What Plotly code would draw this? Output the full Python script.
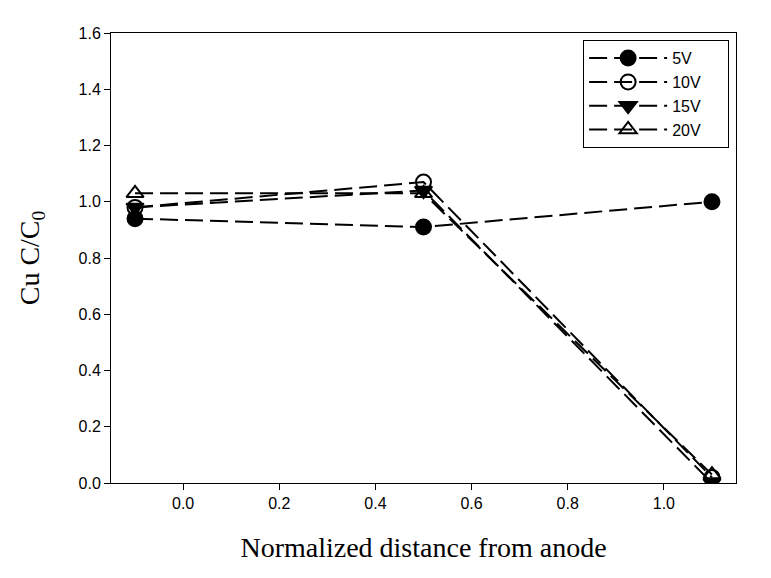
import plotly.graph_objects as go

x_pos = [-0.1, 0.5, 1.1]
v5 = [0.94, 0.91, 1.00]
v10 = [0.98, 1.07, 0.02]
v15 = [0.98, 1.04, 0.00]
v20 = [1.03, 1.03, 0.03]
names = ["5V", "10V", "15V", "20V"]
symbols = ["circle", "circle-open", "triangle-down", "triangle-up-open"]
series = [v5, v10, v15, v20]
x_ticks = [0, 0.2, 0.4, 0.6, 0.8, 1.0]
x_tick_text = ["0.0", "0.2", "0.4", "0.6", "0.8", "1.0"]
y_ticks = [0, 0.2, 0.4, 0.6, 0.8, 1.0, 1.2, 1.4, 1.6]
y_tick_text = ["0.0", "0.2", "0.4", "0.6", "0.8", "1.0", "1.2", "1.4", "1.6"]

pad = "&nbsp;" * 5
fig = go.Figure()
for nm, sym, ys in zip(names, symbols, series):
    fig.add_trace(go.Scatter(
        x=x_pos, y=ys, name=nm + pad, mode="lines+markers",
        line=dict(color="black", width=2, dash="18px,7px"),
        marker=dict(symbol=sym, size=15, color="black",
                    line=dict(color="black", width=2)),
    ))

fig.update_layout(
    width=763, height=570,
    paper_bgcolor="white", plot_bgcolor="white",
    margin=dict(l=103, r=35, t=25, b=95, autoexpand=False),
    font=dict(family="Liberation Sans, Arial", size=16, color="black"),
    showlegend=True,
    legend=dict(x=0.989, y=0.984, xanchor="right", yanchor="top",
                bordercolor="black", borderwidth=1, bgcolor="white",
                font=dict(size=16, family="Liberation Sans, Arial"),
                itemwidth=78, tracegroupgap=0),
)
fig.update_xaxes(
    range=[-0.15, 1.15], tickvals=x_ticks, ticktext=x_tick_text,
    tickfont=dict(size=16),
    showline=True, linecolor="black", linewidth=1, mirror=True,
    ticks="outside", ticklen=6, tickcolor="black", showgrid=False, zeroline=False,
    title=dict(text="Normalized distance from anode",
               font=dict(family="Liberation Serif, Times New Roman", size=28), standoff=26),
)
fig.update_yaxes(
    range=[0, 1.6], tickvals=y_ticks, ticktext=y_tick_text,
    tickfont=dict(size=16),
    showline=True, linecolor="black", linewidth=1, mirror=True,
    ticks="outside", ticklen=6, tickcolor="black", showgrid=False, zeroline=False,
    title=dict(text="Cu C/C<sub>0</sub>",
               font=dict(family="Liberation Serif, Times New Roman", size=28), standoff=30),
)

fig.write_html("out.html")
